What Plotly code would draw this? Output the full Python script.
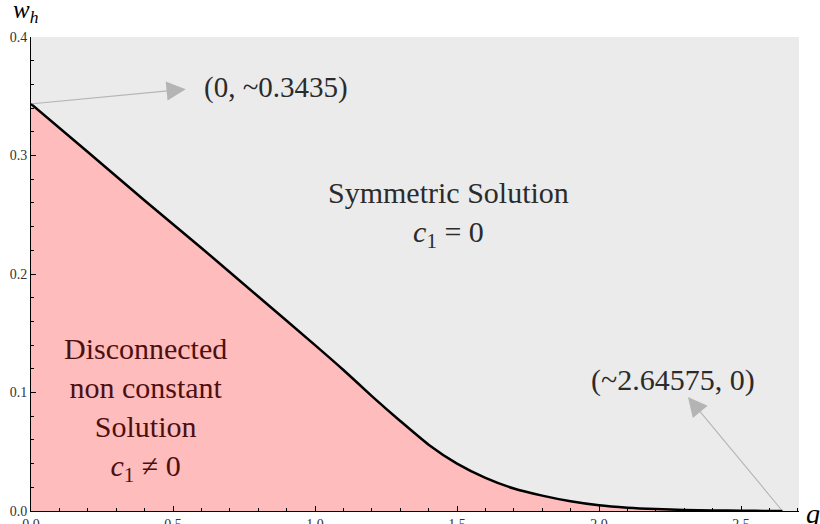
import plotly.graph_objects as go

# curve w_h(q) separating the two solution regions
q_vals = [0.0, 0.2, 0.4, 0.6, 0.8, 1.0, 1.1, 1.2, 1.3, 1.4, 1.5, 1.6, 1.7,
          1.8, 1.9, 2.0, 2.1, 2.2, 2.3, 2.4, 2.5, 2.6, 2.64575]
w_vals = [0.3435, 0.303, 0.262, 0.222, 0.181, 0.140, 0.119, 0.097, 0.076,
          0.056, 0.040, 0.028, 0.019, 0.013, 0.0082, 0.0048, 0.0028, 0.0016,
          0.0009, 0.0005, 0.0002, 0.00005, 0.0]

x_ticks = [0.0, 0.5, 1.0, 1.5, 2.0, 2.5]
y_ticks = [0.0, 0.1, 0.2, 0.3, 0.4]

start_pt = (q_vals[0], w_vals[0])
end_pt = (q_vals[-1], w_vals[-1])

SERIF = "Liberation Serif"

fig = go.Figure()
fig.add_trace(go.Scatter(
    x=q_vals, y=w_vals, mode="lines",
    line=dict(color="black", width=2.5, shape="spline", smoothing=0.6),
    fill="tozeroy", fillcolor="#ffbcbc", hoverinfo="skip", showlegend=False,
))

axis_common = dict(
    showline=True, linecolor="black", linewidth=1, mirror=False,
    ticks="inside", ticklen=5, tickcolor="black", tickwidth=1,
    showgrid=False, zeroline=False, automargin=False,
    tickfont=dict(family=SERIF, size=14, color="#333333"),
    tickformat=".1f",
)
fig.update_xaxes(range=[0, 2.704], tickvals=x_ticks,
                 minor=dict(dtick=0.1, ticks="inside", ticklen=3, tickcolor="black"),
                 **axis_common)
fig.update_yaxes(range=[0, 0.4], tickvals=y_ticks,
                 minor=dict(dtick=0.02, ticks="inside", ticklen=3, tickcolor="black"),
                 **axis_common)


def px_x(p):
    return (p - 31) / 768


def px_y(p):
    return (511 - p) / 474


annotations = [
    # arrows
    dict(x=0.545, y=0.356, ax=start_pt[0], ay=start_pt[1], xref="x", yref="y",
         axref="x", ayref="y", text="", showarrow=True, arrowhead=2,
         arrowsize=3.5, arrowwidth=1.1, arrowcolor="#b4b4b4"),
    dict(x=2.313, y=0.0962, ax=end_pt[0], ay=end_pt[1], xref="x", yref="y",
         axref="x", ayref="y", text="", showarrow=True, arrowhead=2,
         arrowsize=3.5, arrowwidth=1.1, arrowcolor="#b4b4b4"),
    # labels
    dict(x=px_x(276), y=px_y(87), text="(0, ~0.3435)",
         font=dict(family=SERIF, size=29, color="#2b2b2b")),
    dict(x=px_x(673), y=px_y(380), text="(~2.64575, 0)",
         font=dict(family=SERIF, size=30, color="#2b2b2b")),
    dict(x=px_x(448), y=px_y(214),
         text="Symmetric Solution<br><i>c</i><sub>1</sub> = 0",
         font=dict(family=SERIF, size=30, color="#2b2b2b")),
    dict(x=px_x(145), y=px_y(409),
         text="Disconnected<br>non constant<br>Solution<br><i>c</i><sub>1</sub> ≠ 0",
         font=dict(family=SERIF, size=30, color="#4d1010")),
]
for a in annotations:
    if a.get("text"):
        a.update(xref="paper", yref="paper", showarrow=False,
                 xanchor="center", yanchor="middle")

# axis labels
annotations.append(dict(x=px_x(11), y=px_y(29), xref="paper", yref="paper",
                        showarrow=False, xanchor="left", yanchor="bottom",
                        text="<i>w</i><sub><i>h</i></sub>",
                        font=dict(family=SERIF, size=25, color="black")))
annotations.append(dict(x=px_x(813), y=px_y(513), xref="paper", yref="paper",
                        showarrow=False, xanchor="center", yanchor="middle",
                        text="<i>q</i>",
                        font=dict(family=SERIF, size=28, color="black")))

fig.update_layout(
    template="none",
    width=820, height=524,
    margin=dict(l=31, r=21, t=37, b=13),
    paper_bgcolor="white", plot_bgcolor="#ebebeb",
    annotations=annotations,
    showlegend=False,
)

fig.write_html("out.html", config={"displayModeBar": False},
               post_script="document.body.style.margin='0';document.body.style.overflow='hidden';")
